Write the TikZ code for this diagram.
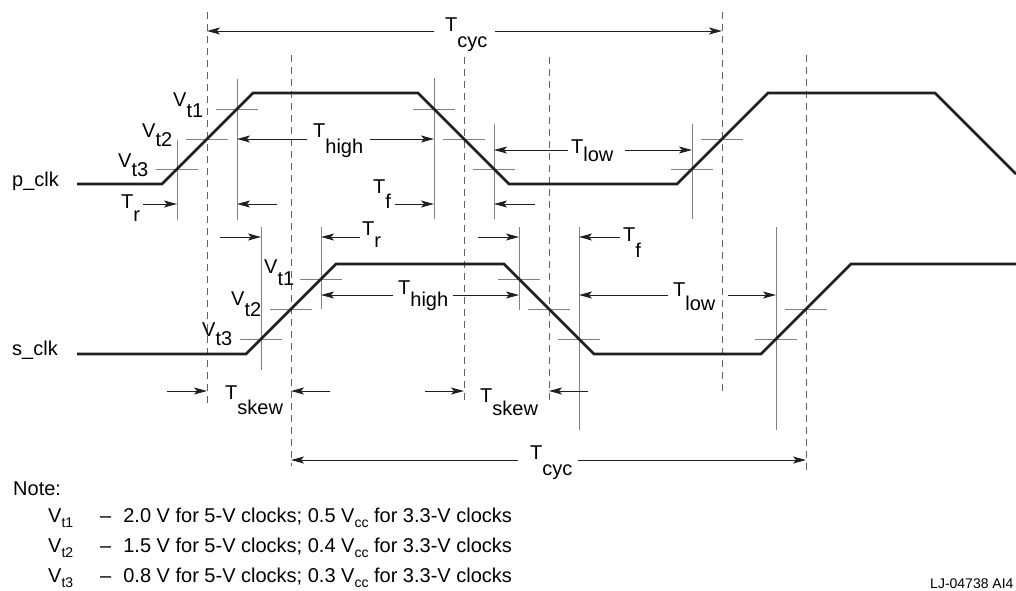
\documentclass[tikz,border=0pt]{standalone}
\usepackage{fontspec}
\setmainfont{Liberation Sans}
\usetikzlibrary{arrows.meta}
\newcommand{\lbl}[3]{#1\raisebox{-#3pt}{#2}}
\newcommand{\nsub}[1]{\raisebox{-5pt}{\fontsize{14}{16}\selectfont #1}}
\begin{document}
\begin{tikzpicture}[x=1pt,y=-1pt,
  wave/.style={line width=2.6pt, draw=black!88, line join=miter},
  guide/.style={line width=1pt, draw=black!50},
  dline/.style={line width=1pt, draw=black!62, dash pattern=on 7pt off 5pt},
  dim/.style={line width=1pt, draw=black!88, -{Stealth[length=13pt,width=7pt,inset=3pt]}},
  lab/.style={inner sep=0pt, anchor=base west, font=\fontsize{20}{24}\selectfont},
  small/.style={inner sep=0pt, anchor=base west, font=\fontsize{14}{16}\selectfont}]
\fill[white] (0,0) rectangle (1016,590);
\useasboundingbox (0,0) rectangle (1016,590);

% ---------- dashed reference lines ----------
\draw[dline] (207,12) -- (207,403);
\draw[dline] (291,55) -- (291,466);
\draw[dline] (464,57) -- (464,403);
\draw[dline] (549,57) -- (549,403);
\draw[dline] (722,12) -- (722,394);
\draw[dline] (806,55) -- (806,470);

% ---------- threshold crossings ----------
\coordinate (pr3) at (177,169); \coordinate (pr2) at (207,139); \coordinate (pr1) at (237,109);
\coordinate (pf1) at (434,109); \coordinate (pf2) at (464,139); \coordinate (pf3) at (494,169);
\coordinate (pq3) at (692,169); \coordinate (pq2) at (722,139);
\coordinate (sr3) at (261,339); \coordinate (sr2) at (291,309); \coordinate (sr1) at (321,279);
\coordinate (sf1) at (519,279); \coordinate (sf2) at (549,309); \coordinate (sf3) at (579,339);
\coordinate (sq3) at (776,339); \coordinate (sq2) at (806,309);

% ---------- grey verticals ----------
\draw[guide] (177,140) -- (177,220);
\draw[guide] (237,79) -- (237,220);
\draw[guide] (434,78) -- (434,219);
\draw[guide] (494,124) -- (494,219);
\draw[guide] (692,124) -- (692,219);
\draw[guide] (261,227) -- (261,370);
\draw[guide] (321,227) -- (321,309);
\draw[guide] (519,227) -- (519,310);
\draw[guide] (579,227) -- (579,430);
\draw[guide] (776,227) -- (776,430);

% ---------- grey horizontal ticks ----------
\foreach \c in {pr3,pr2,pr1,pf1,pf2,pf3,pq3,pq2,sr3,sr2,sr1,sf1,sf2,sf3,sq3,sq2}
  \draw[guide] ([xshift=-21pt]\c) -- ([xshift=21pt]\c);

% ---------- waveforms ----------
\draw[wave] (77,184) -- (162,184) -- (pr3) -- (pr2) -- (pr1) -- (253,93) -- (418,93)
  -- (pf1) -- (pf2) -- (pf3) -- (509,184) -- (677,184) -- (pq3) -- (pq2) -- (768,93)
  -- (935,93) -- (1016,174);
\draw[wave] (77,354) -- (246,354) -- (sr3) -- (sr2) -- (sr1) -- (336,264) -- (504,264)
  -- (sf1) -- (sf2) -- (sf3) -- (594,354) -- (761,354) -- (sq3) -- (sq2) -- (851,264)
  -- (1016,264);

% ---------- signal names ----------
\node[lab] (pclk) at (12,186) {p\_clk};
\node[lab] (sclk) at (12,355) {s\_clk};

% ---------- p_clk labels ----------
\node[lab] (vp1) at (173,106) {\lbl{V}{t1}{11}};
\node[lab] (vp2) at (142,137) {\lbl{V}{t2}{9}};
\node[lab] (vp3) at (118,167) {\lbl{V}{t3}{9}};
\node[lab] (trp) at (121,208) {\lbl{T}{r}{13}};
\node[lab] (thp) at (313,137) {\lbl{T}{high}{16}};
\node[lab] (tfp) at (373,193) {\lbl{T}{f}{15}};
\node[lab] (tlp) at (571,153) {\lbl{T}{low}{8}};
\node[lab] (tcyc1) at (445,31) {\lbl{T}{cyc}{16}};

% ---------- s_clk labels ----------
\node[lab] (vs1) at (264,273) {\lbl{V}{t1}{12}};
\node[lab] (vs2) at (231,305) {\lbl{V}{t2}{11}};
\node[lab] (vs3) at (202,336) {\lbl{V}{t3}{9}};
\node[lab] (trs) at (362,235) {\lbl{T}{r}{12}};
\node[lab] (ths) at (398,294) {\lbl{T}{high}{12}};
\node[lab] (tfs) at (623,241) {\lbl{T}{f}{16}};
\node[lab] (tls) at (673,296) {\lbl{T}{low}{14}};
\node[lab] (tsk1) at (225,399) {\lbl{T}{skew}{15}};
\node[lab] (tsk2) at (480,402) {\lbl{T}{skew}{13}};
\node[lab] (tcyc2) at (530,459) {\lbl{T}{cyc}{16}};

% ---------- dimension arrows ----------
% top T_cyc
\draw[dim] (434,31) -- (207,31);
\draw[dim] (495,31) -- (722,31);
% p_clk
\draw[dim] (143,204) -- (177,204);
\draw[dim] (277,204) -- (237,204);
\draw[dim] (307,139) -- (237,139);
\draw[dim] (370,139) -- (434,139);
\draw[dim] (395,204) -- (434,204);
\draw[dim] (535,204) -- (494,204);
\draw[dim] (568,150) -- (494,150);
\draw[dim] (625,150) -- (692,150);
% s_clk
\draw[dim] (220,237) -- (261,237);
\draw[dim] (360,237) -- (321,237);
\draw[dim] (393,295) -- (321,295);
\draw[dim] (453,295) -- (519,295);
\draw[dim] (478,237) -- (519,237);
\draw[dim] (620,237) -- (579,237);
\draw[dim] (668,295) -- (579,295);
\draw[dim] (728,295) -- (776,295);
\draw[dim] (167,391) -- (207,391);
\draw[dim] (330,391) -- (291,391);
\draw[dim] (425,391) -- (464,391);
\draw[dim] (588,391) -- (549,391);
% bottom T_cyc
\draw[dim] (518,460) -- (291,460);
\draw[dim] (578,460) -- (806,460);

% ---------- notes ----------
\node[lab] (note) at (13,495) {Note:};
\node[lab] (n1) at (48,522) {V\nsub{t1}\hspace{27pt}–\hspace{12pt}2.0 V for 5-V clocks; 0.5 V\nsub{cc} for 3.3-V clocks};
\node[lab] (n2) at (48,552) {V\nsub{t2}\hspace{27pt}–\hspace{12pt}1.5 V for 5-V clocks; 0.4 V\nsub{cc} for 3.3-V clocks};
\node[lab] (n3) at (48,582) {V\nsub{t3}\hspace{27pt}–\hspace{12pt}0.8 V for 5-V clocks; 0.3 V\nsub{cc} for 3.3-V clocks};
\node[small] (fig) at (930,588) {LJ-04738 AI4};
\end{tikzpicture}
\end{document}
